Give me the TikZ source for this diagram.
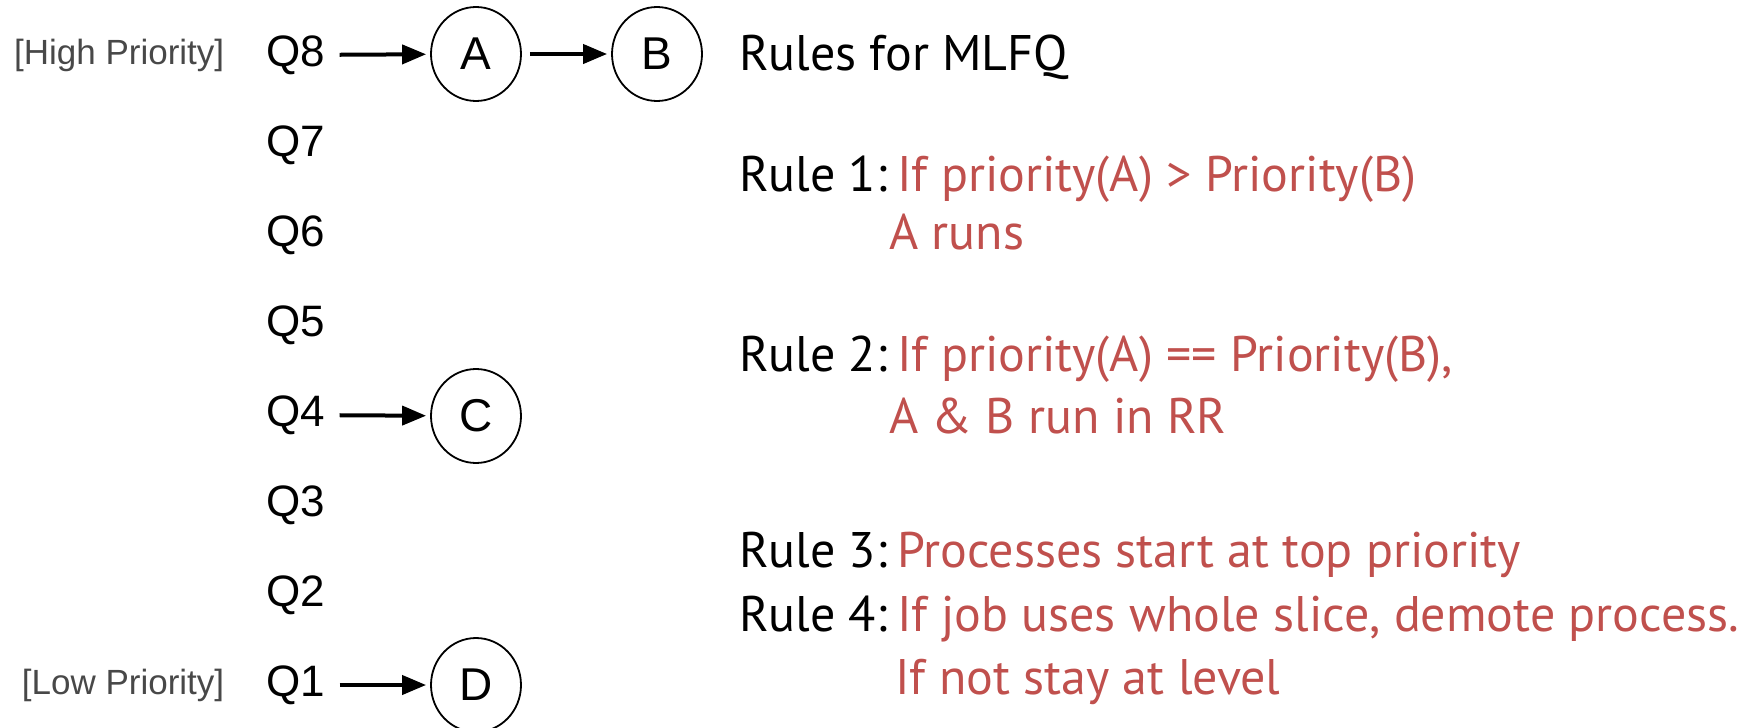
\documentclass[tikz,border=0pt]{standalone}
\usepackage{fontspec}
\setmainfont{Liberation Sans}
\newfontfamily\rulefont{PT Sans}
\usepackage{xcolor}
\usetikzlibrary{arrows.meta,positioning,shapes.geometric}
\definecolor{rulered}{RGB}{192,80,77}
\definecolor{prigray}{RGB}{72,72,72}

\begin{document}
\begin{tikzpicture}[x=1pt, y=-1pt,
  qlab/.style={inner sep=0pt, font=\fontsize{44}{50}\selectfont},
  pri/.style={inner sep=0pt, text=prigray, font=\fontsize{35}{42}\selectfont},
  proc/.style={draw, ellipse, line width=1.8pt, minimum width=90pt,
               minimum height=94pt, inner sep=0pt, font=\fontsize{46}{52}\selectfont},
  link/.style={->, line width=4pt, shorten <=14pt, shorten >=4pt},
  rulelab/.style={inner sep=0pt, anchor=base west, font=\rulefont\fontsize{50}{58}\selectfont},
  ruletxt/.style={rulelab, text=rulered},
  >={Triangle[length=24pt,width=19pt]}, node distance=90pt]
\useasboundingbox (0,0) rectangle (1762,728);
% queues
\node[qlab] (q8) at (296,55) {Q8};
\node[qlab, below=of q8.center, anchor=center] (q7) {Q7};
\node[qlab, below=of q7.center, anchor=center] (q6) {Q6};
\node[qlab, below=of q6.center, anchor=center] (q5) {Q5};
\node[qlab, below=of q5.center, anchor=center] (q4) {Q4};
\node[qlab, below=of q4.center, anchor=center] (q3) {Q3};
\node[qlab, below=of q3.center, anchor=center] (q2) {Q2};
\node[qlab, below=of q2.center, anchor=center] (q1) {Q1};
\node[pri, left=42pt of q8] (hi) {[High Priority]};
\node[pri, left=42pt of q1] (lo) {[Low Priority]};
% processes
\node[proc] (a) at (476,54) {A};
\node[proc, right=181pt of a.center, anchor=center] (b) {B};
\node[proc] (c) at (476,416) {C};
\node[proc] (d) at (476,685) {D};
\draw[link] (q8) -- (a);
\draw[link, shorten <=8pt] (a) -- (b);
\draw[link] (q4) -- (c);
\draw[link] (q1) -- (d);
% rules
\node[rulelab] (title) at (739,70) {Rules for MLFQ};
\node[rulelab] (r1) at (739,191) {Rule 1:};
\node[ruletxt] (r1a) at (897,191) {If priority(A) > Priority(B)};
\node[ruletxt] (r1b) at (889,249) {A runs};
\node[rulelab] (r2) at (739,371) {Rule 2:};
\node[ruletxt] (r2a) at (897,371) {If priority(A) == Priority(B),};
\node[ruletxt] (r2b) at (889,433) {A \& B run in RR};
\node[rulelab] (r3) at (739,567) {Rule 3:};
\node[ruletxt] (r3a) at (897,567) {Processes start at top priority};
\node[rulelab] (r4) at (739,631) {Rule 4:};
\node[ruletxt] (r4a) at (897,631) {If job uses whole slice, demote process.};
\node[ruletxt] (r4b) at (895,694) {If not stay at level};
\end{tikzpicture}
\end{document}
